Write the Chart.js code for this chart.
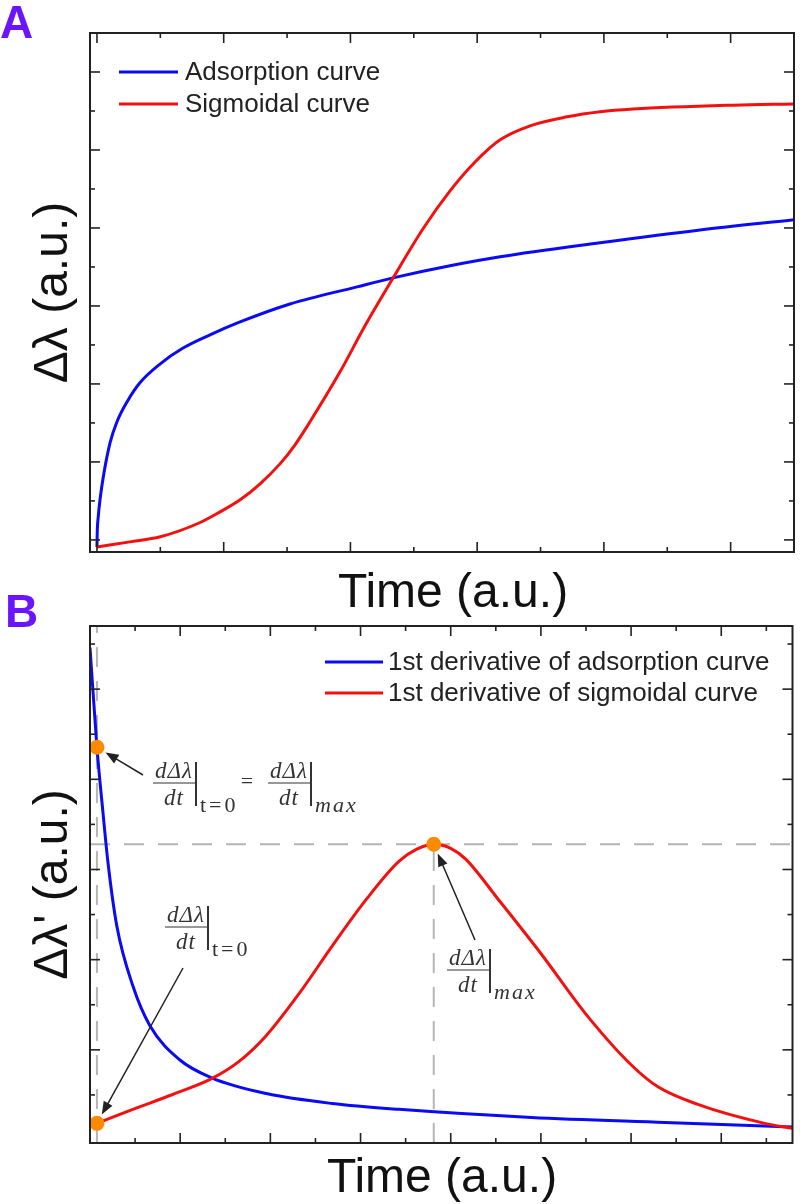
<!DOCTYPE html>
<html>
<head>
<meta charset="utf-8">
<script src="https://cdn.jsdelivr.net/npm/chart.js@4.4.1/dist/chart.umd.min.js"></script>
<style>
  html, body { margin: 0; padding: 0; background: #fff; }
  body { width: 800px; height: 1204px; position: relative; overflow: hidden; }
  canvas { position: absolute; left: 0; }
  #chartA { top: 0; }
  #chartB { top: 600px; }
  .panel { position: absolute; font: bold 46px "Liberation Sans", Arial, sans-serif; color: #6a14ff; line-height: 46px; }
</style>
</head>
<body>
<canvas id="chartA" width="800" height="620"></canvas>
<canvas id="chartB" width="800" height="604"></canvas>
<div class="panel" style="left:0;top:-1px">A</div>
<div class="panel" style="left:5px;top:588px">B</div>
<script>
// ---- Panel A: raw curves (time and signal in tick units) ----
const adsTimeA = [0, 0.002, 0.010, 0.024, 0.050, 0.103, 0.158, 0.237, 0.339, 0.497, 0.679, 0.892, 1.129, 1.523, 2.052, 2.336, 2.786, 3.181, 3.970, 4.759, 5.501];
const adsSignalA = [-0.18, 0.18, 0.59, 1.03, 1.62, 2.49, 3.03, 3.54, 4.03, 4.51, 4.92, 5.26, 5.59, 6.05, 6.49, 6.72, 7.03, 7.26, 7.62, 7.95, 8.21];
const sigTimeA = [0, 0.26, 0.50, 0.81, 0.971, 1.13, 1.287, 1.444, 1.563, 1.681, 1.918, 2.115, 2.328, 2.573, 2.786, 2.983, 3.181, 3.418, 3.710, 3.970, 4.231, 5.020, 5.501];
const sigSignalA = [-0.18, -0.05, 0.08, 0.44, 0.72, 1.03, 1.44, 1.95, 2.44, 3.03, 4.31, 5.49, 6.67, 7.98, 8.95, 9.69, 10.26, 10.62, 10.85, 10.98, 11.05, 11.15, 11.18];
const labelsA = ["Adsorption curve", "Sigmoidal curve"];

const xMajorA = [0, 1, 2, 3, 4, 5];
const xMinorA = [0.5, 1.5, 2.5, 3.5, 4.5];
const yMajorA = [0, 2, 4, 6, 8, 10, 12];
const yMinorA = [1, 3, 5, 7, 9, 11];

// ---- Panel B: first derivatives ----
const adsTimeB = [0, 0.077, 0.144, 0.199, 0.298, 0.475, 0.663, 0.994, 1.348, 1.956, 2.685, 3.425, 4.895, 6.376, 7.79];
const adsRateB = [10.92, 8.71, 7.26, 6.16, 4.74, 3.42, 2.54, 1.78, 1.38, 1.03, 0.81, 0.68, 0.50, 0.39, 0.29];
const sigTimeB = [0.077, 0.475, 0.917, 1.348, 1.657, 1.956, 2.320, 2.685, 3.061, 3.425, 3.624, 3.812, 4.000, 4.166, 4.530, 5.006, 5.492, 6.000, 6.298, 6.740, 7.481, 7.79];
const sigRateB = [0.37, 0.68, 1.01, 1.36, 1.75, 2.32, 3.25, 4.30, 5.33, 6.18, 6.45, 6.56, 6.47, 6.23, 5.33, 4.12, 2.81, 1.67, 1.18, 0.79, 0.37, 0.26];
const labelsB = ["1st derivative of adsorption curve", "1st derivative of sigmoidal curve"];

// marked points: t=0 on adsorption, t=0 on sigmoid, max of sigmoid
const markTimeB = [0.077, 0.077, 3.812];
const markRateB = [8.71, 0.37, 6.56];

const xMajorB = [1, 2, 3, 4, 5, 6, 7];
const xMinorB = [0.5, 1.5, 2.5, 3.5, 4.5, 5.5, 6.5, 7.5];
const yMajorB = [2, 4, 6, 8, 10];
const yMinorB = [1, 3, 5, 7, 9, 11];

const BLUE = "#0a0af5";
const RED = "#f51010";
const ORANGE = "#ff8a00";
const DASH = "#b5b5b5";
const INK = "#222";
const MATH = '"Liberation Serif", "DejaVu Serif", serif';

const pts = (xs, ys) => xs.map((x, i) => ({ x: x, y: ys[i] }));

function curve(data, color) {
  return {
    data: data, showLine: true, borderColor: color, borderWidth: 3,
    pointRadius: 0, cubicInterpolationMode: "monotone", fill: false
  };
}

function dashed(data) {
  return {
    data: data, showLine: true, borderColor: DASH, borderWidth: 2,
    borderDash: [20, 14], pointRadius: 0, fill: false
  };
}

function line(ctx, x1, y1, x2, y2) {
  ctx.beginPath();
  ctx.moveTo(x1, y1);
  ctx.lineTo(x2, y2);
  ctx.stroke();
}

function arrow(ctx, x1, y1, x2, y2) {
  const ang = Math.atan2(y2 - y1, x2 - x1);
  ctx.strokeStyle = INK;
  ctx.fillStyle = INK;
  ctx.lineWidth = 1.5;
  line(ctx, x1, y1, x2 - 8 * Math.cos(ang), y2 - 8 * Math.sin(ang));
  ctx.beginPath();
  ctx.moveTo(x2, y2);
  ctx.lineTo(x2 - 13 * Math.cos(ang) + 5 * Math.sin(ang), y2 - 13 * Math.sin(ang) - 5 * Math.cos(ang));
  ctx.lineTo(x2 - 13 * Math.cos(ang) - 5 * Math.sin(ang), y2 - 13 * Math.sin(ang) + 5 * Math.cos(ang));
  ctx.closePath();
  ctx.fill();
}

// arrow from a tail to just outside a marked data point
function arrowTo(chart, tx, ty, i) {
  const px = chart.scales.x.getPixelForValue(markTimeB[i]);
  const py = chart.scales.y.getPixelForValue(markRateB[i]);
  const d = Math.hypot(tx - px, ty - py);
  arrow(chart.ctx, tx, ty, px + (tx - px) / d * 10, py + (ty - py) / d * 10);
}

// d(Δλ)/dt |sub
function drawFrac(ctx, cx, barY, sub, subItalic) {
  ctx.fillStyle = "#333";
  ctx.strokeStyle = "#333";
  ctx.font = "italic 23px " + MATH;
  ctx.letterSpacing = "1px";
  ctx.textAlign = "center";
  ctx.textBaseline = "alphabetic";
  ctx.fillText("dΔλ", cx, barY - 5);
  ctx.fillText("dt", cx, barY + 22);
  ctx.lineWidth = 1.2;
  line(ctx, cx - 21, barY, cx + 21, barY);
  ctx.lineWidth = 2;
  line(ctx, cx + 22, barY - 21, cx + 22, barY + 23);
  ctx.font = (subItalic ? "italic " : "") + "22px " + MATH;
  ctx.letterSpacing = subItalic ? "2px" : "3px";
  ctx.textAlign = "left";
  ctx.fillText(sub, cx + 26, barY + 29);
  ctx.letterSpacing = "0px";
}

function framePlugin(opt) {
  return {
    id: "frame",
    afterDatasetsDraw(chart) {
      const { ctx, chartArea: a, scales: { x, y } } = chart;
      ctx.save();
      ctx.strokeStyle = INK;
      ctx.lineWidth = 2;
      ctx.strokeRect(a.left, a.top, a.right - a.left, a.bottom - a.top);
      ctx.lineWidth = 1.6;
      const xt = (vals, len) => vals.forEach(v => {
        const p = x.getPixelForValue(v);
        line(ctx, p, a.bottom, p, a.bottom - len);
        line(ctx, p, a.top, p, a.top + len);
      });
      const yt = (vals, len) => vals.forEach(v => {
        const p = y.getPixelForValue(v);
        line(ctx, a.left, p, a.left + len, p);
        line(ctx, a.right, p, a.right - len, p);
      });
      xt(opt.xMajor, 10); xt(opt.xMinor, 5);
      yt(opt.yMajor, 10); yt(opt.yMinor, 5);

      // axis titles
      ctx.fillStyle = "#111";
      ctx.font = '48px "Liberation Sans", Arial, sans-serif';
      ctx.textAlign = "center";
      ctx.textBaseline = "alphabetic";
      ctx.fillText("Time (a.u.)", opt.xTitle[0], opt.xTitle[1]);
      ctx.save();
      ctx.translate(67, (a.top + a.bottom) / 2);
      ctx.rotate(-Math.PI / 2);
      ctx.fillText(opt.yTitle, 0, 0);
      ctx.restore();

      // legend
      ctx.font = '26px "Liberation Sans", Arial, sans-serif';
      ctx.textAlign = "left";
      ctx.textBaseline = "middle";
      opt.legend.rows.forEach((r, i) => {
        const ly = opt.legend.y + i * opt.legend.gap;
        ctx.strokeStyle = chart.data.datasets[r.ds].borderColor;
        ctx.lineWidth = 3;
        line(ctx, opt.legend.x1, ly, opt.legend.x2, ly);
        ctx.fillStyle = "#222";
        ctx.fillText(r.label, opt.legend.tx, ly + 1);
      });
      if (opt.extra) opt.extra(chart);
      ctx.restore();
    }
  };
}

new Chart(document.getElementById("chartA"), {
  type: "scatter",
  data: {
    datasets: [
      curve(pts(sigTimeA, sigSignalA), RED),
      curve(pts(adsTimeA, adsSignalA), BLUE)
    ]
  },
  options: {
    responsive: false, animation: false, events: [],
    layout: { padding: { left: 90, top: 33, right: 6, bottom: 68 } },
    plugins: { legend: { display: false }, tooltip: { enabled: false } },
    scales: {
      x: { type: "linear", display: false, min: -0.055, max: 5.50 },
      y: { type: "linear", display: false, min: -0.31, max: 13.0 }
    }
  },
  plugins: [framePlugin({
    xMajor: xMajorA, xMinor: xMinorA, yMajor: yMajorA, yMinor: yMinorA,
    xTitle: [453, 607], yTitle: "Δλ (a.u.)",
    legend: { x1: 119, x2: 178, tx: 185, y: 72, gap: 32,
      rows: [{ ds: 1, label: labelsA[0] }, { ds: 0, label: labelsA[1] }] }
  })]
});

new Chart(document.getElementById("chartB"), {
  type: "scatter",
  data: {
    datasets: [
      { data: pts(markTimeB, markRateB), pointRadius: 7.5, pointBackgroundColor: ORANGE, pointBorderWidth: 0, showLine: false },
      curve(pts(sigTimeB, sigRateB), RED),
      curve(pts(adsTimeB, adsRateB), BLUE),
      dashed([{ x: 0, y: markRateB[2] }, { x: 7.79, y: markRateB[2] }]),
      dashed([{ x: markTimeB[0], y: -0.066 }, { x: markTimeB[0], y: 11.4 }]),
      dashed([{ x: markTimeB[2], y: -0.066 }, { x: markTimeB[2], y: markRateB[2] }])
    ]
  },
  options: {
    responsive: false, animation: false, events: [],
    layout: { padding: { left: 90, top: 26, right: 5, bottom: 61 } },
    plugins: { legend: { display: false }, tooltip: { enabled: false } },
    scales: {
      x: { type: "linear", display: false, min: 0, max: 7.79 },
      y: { type: "linear", display: false, min: -0.066, max: 11.4 }
    }
  },
  plugins: [framePlugin({
    xMajor: xMajorB, xMinor: xMinorB, yMajor: yMajorB, yMinor: yMinorB,
    xTitle: [442, 592], yTitle: "Δλ' (a.u.)",
    legend: { x1: 325, x2: 383, tx: 388, y: 62, gap: 31,
      rows: [{ ds: 2, label: labelsB[0] }, { ds: 1, label: labelsB[1] }] },
    extra(chart) {
      const ctx = chart.ctx;
      drawFrac(ctx, 174, 183, "t=0", false);
      ctx.font = "22px " + MATH;
      ctx.textAlign = "center";
      ctx.textBaseline = "middle";
      ctx.fillText("=", 247, 182);
      drawFrac(ctx, 289, 183, "max", true);
      drawFrac(ctx, 186, 327, "t=0", false);
      drawFrac(ctx, 468, 370, "max", true);
      arrowTo(chart, 143, 175, 0);
      arrowTo(chart, 183, 368, 1);
      arrowTo(chart, 475, 340, 2);
    }
  })]
});
</script>
</body>
</html>
